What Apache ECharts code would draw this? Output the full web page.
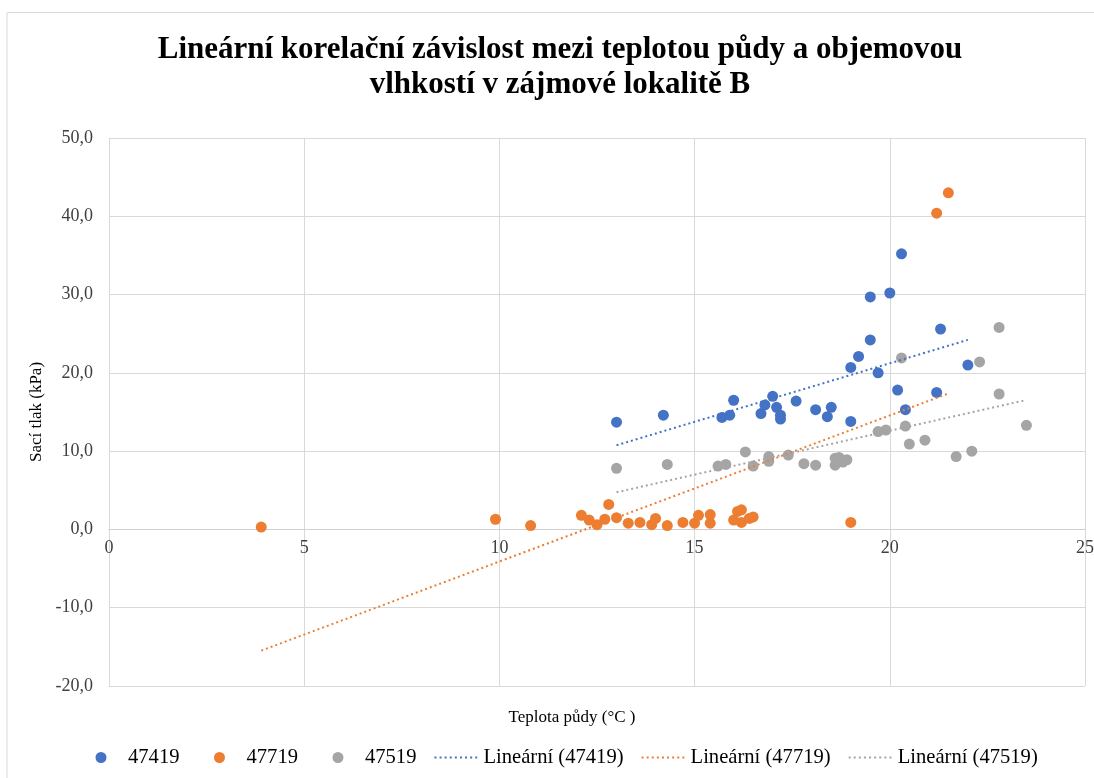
<!DOCTYPE html>
<html>
<head>
<meta charset="utf-8">
<script src="https://cdn.jsdelivr.net/npm/echarts@6/dist/echarts.min.js"></script>
<style>html,body{margin:0;padding:0;background:#fff}#c{width:1094px;height:778px}</style>
</head>
<body>
<div id="c"></div>
<script>
// ---- data ----
const names = ['47419', '47719', '47519'];
const trendNames = ['Lineární (47419)', 'Lineární (47719)', 'Lineární (47519)'];
const colors = ['#4472C4', '#ED7D31', '#A5A5A5'];

const x47419 = [13.0,14.2,15.7,15.9,16.0,16.7,16.8,17.0,17.1,17.2,17.2,17.6,18.1,18.4,18.5,19.0,19.0,19.2,19.5,19.5,19.7,20.0,20.3,21.3,22.0,20.2,21.2,20.4];
const y47419 = [13.7,14.6,14.3,14.6,16.5,14.8,15.9,17.0,15.6,14.6,14.1,16.4,15.3,14.4,15.6,13.8,20.7,22.1,24.2,29.7,20.0,30.2,35.2,25.6,21.0,17.8,17.5,15.3];

const x47719 = [3.9,9.9,10.8,12.1,12.3,12.5,12.7,12.8,13.0,13.3,13.6,13.9,14.0,14.3,14.7,15.0,15.1,15.4,15.4,16.0,16.1,16.2,16.2,16.4,16.5,19.0,21.2,21.5];
const y47719 = [0.3,1.3,0.5,1.8,1.2,0.6,1.3,3.2,1.5,0.8,0.9,0.6,1.4,0.5,0.9,0.8,1.8,1.9,0.8,1.2,2.3,2.5,0.9,1.4,1.6,0.9,40.4,43.0];

const x47519 = [13.0,14.3,15.6,15.8,16.3,16.5,16.9,16.9,17.4,17.8,18.1,18.6,18.6,18.7,18.8,18.9,19.7,19.9,20.4,20.5,20.9,21.7,22.1,20.3,22.3,22.8,22.8,23.5];
const y47519 = [7.8,8.3,8.1,8.3,9.9,8.1,9.3,8.7,9.5,8.4,8.2,9.1,8.2,9.2,8.6,8.9,12.5,12.7,13.2,10.9,11.4,9.3,10.0,21.9,21.4,25.8,17.3,13.3];

const xTicks = [0, 5, 10, 15, 20, 25];
const yTicks = [-20, -10, 0, 10, 20, 30, 40, 50];

const xs = [x47419, x47719, x47519];
const ys = [y47419, y47719, y47519];

// least-squares linear trend over each series' x range
function trend(x, y) {
  const n = x.length;
  const mx = x.reduce((a, b) => a + b, 0) / n;
  const my = y.reduce((a, b) => a + b, 0) / n;
  let sxy = 0, sxx = 0;
  for (let i = 0; i < n; i++) { sxy += (x[i] - mx) * (y[i] - my); sxx += (x[i] - mx) ** 2; }
  const b = sxy / sxx, a = my - b * mx;
  const x0 = Math.min(...x), x1 = Math.max(...x);
  return [[x0, a + b * x0], [x1, a + b * x1]];
}

// legend icons drawn in a 44x11 box (corner points fix the box size)
const BOX = 'M0,0L0.01,0M44,11L44.01,11';
const dotIcon = 'path://' + BOX + 'M16.5,5.5a5.5,5.5 0 1,0 11,0a5.5,5.5 0 1,0 -11,0z';
let dl = '';
for (let i = 0; i < 9; i++) { const x = i * 5.1; dl += 'M' + x + ',4.5h2v2h-2z'; }
const dottedIcon = 'path://' + BOX + dl;

const font = 'Liberation Serif, Times New Roman, serif';
const series = [];
for (let k = 0; k < 3; k++) {
  series.push({
    name: names[k], type: 'scatter', symbolSize: 11,
    itemStyle: { color: colors[k], opacity: 1 },
    data: xs[k].map((v, i) => [v, ys[k][i]]), z: 3
  });
}
for (let k = 0; k < 3; k++) {
  series.push({
    name: trendNames[k], type: 'line', symbol: 'none', showSymbol: false,
    lineStyle: { color: colors[k], width: 2, type: [2, 3] },
    itemStyle: { color: colors[k] },
    data: trend(xs[k], ys[k]), z: 4, silent: true
  });
}

const chart = echarts.init(document.getElementById('c'));
chart.setOption({
  animation: false,
  backgroundColor: '#fff',
  title: {
    text: 'Lineární korelační závislost mezi teplotou půdy a objemovou\nvlhkostí v zájmové lokalitě B',
    left: 555, top: 27, textAlign: 'center',
    textStyle: { fontFamily: font, fontWeight: 'bold', fontSize: 31, color: '#000', lineHeight: 35 }
  },
  graphic: [{
    type: 'polyline', silent: true,
    shape: { points: [[7, 800], [7, 12.5], [1100, 12.5]] },
    style: { stroke: '#d9d9d9', lineWidth: 1, fill: null }
  }, {
    type: 'text', silent: true, x: 572, y: 718,
    style: { text: 'Teplota půdy (°C )', align: 'center', verticalAlign: 'middle',
      fontSize: 17, fontFamily: font, fill: '#000' }
  }],
  grid: { left: 109, right: 9, top: 138, bottom: 92, outerBoundsMode: 'none', containLabel: false },
  xAxis: {
    type: 'value', min: 0, max: 25, interval: 5, offset: -157,
    axisLine: { show: true, onZero: false, lineStyle: { color: '#cfcfcf', width: 1 } },
    axisTick: { show: false },
    axisLabel: { fontFamily: font, fontSize: 18, color: '#404040', margin: 10,
      formatter: v => xTicks.includes(v) ? String(v) : '' },
    splitLine: { show: true, lineStyle: { color: '#d9d9d9', width: 1 } }
  },
  yAxis: {
    type: 'value', min: -20, max: 50, interval: 10,
    name: 'Sací tlak (kPa)', nameLocation: 'middle', nameGap: 57, nameRotate: 90,
    nameTextStyle: { fontFamily: font, fontSize: 17, color: '#000' },
    axisLine: { show: true, onZero: false, lineStyle: { color: '#d9d9d9', width: 1 } },
    axisTick: { show: false },
    axisLabel: { fontFamily: font, fontSize: 18, color: '#404040', margin: 16,
      formatter: v => yTicks.includes(v) ? v.toFixed(1).replace('.', ',') : '' },
    splitLine: { show: true, lineStyle: { color: '#d9d9d9', width: 1 } }
  },
  legend: {
    bottom: 10, left: 79, padding: 0, itemGap: 18, itemWidth: 44, itemHeight: 11,
    textStyle: { fontFamily: font, fontSize: 20.6, color: '#000' },
    data: [
      { name: names[0], icon: dotIcon, itemStyle: { color: colors[0] } },
      { name: names[1], icon: dotIcon, itemStyle: { color: colors[1] } },
      { name: names[2], icon: dotIcon, itemStyle: { color: colors[2] } },
      { name: trendNames[0], icon: dottedIcon, itemStyle: { color: colors[0] } },
      { name: trendNames[1], icon: dottedIcon, itemStyle: { color: colors[1] } },
      { name: trendNames[2], icon: dottedIcon, itemStyle: { color: colors[2] } }
    ]
  },
  series: series
});
</script>
</body>
</html>
